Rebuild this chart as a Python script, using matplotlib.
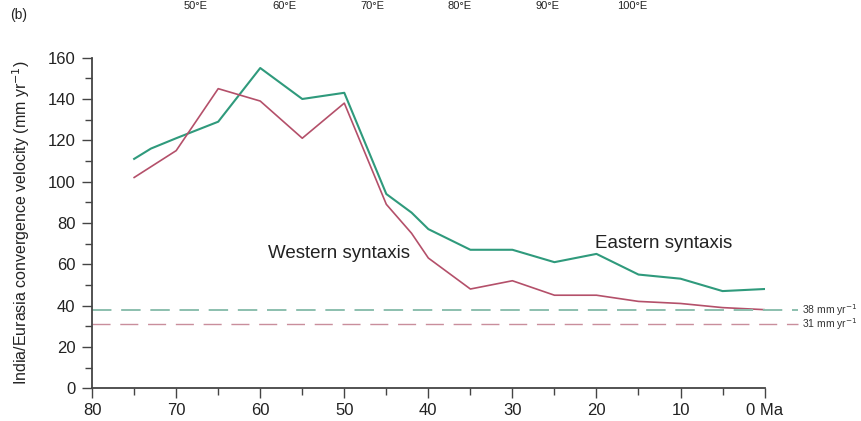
import matplotlib
matplotlib.use('Agg')
import matplotlib.pyplot as plt

plt.rcParams['font.family'] = ['Liberation Sans', 'DejaVu Sans']

# Age (Ma) and convergence velocities (mm/yr)
ages_east = [75, 73, 70, 65, 60, 55, 50, 45, 42, 40, 35, 30, 25, 20, 15, 10, 5, 0]
eastern = [111, 116, 121, 129, 155, 140, 143, 94, 85, 77, 67, 67, 61, 65, 55, 53, 47, 48]
ages_west = [75, 70, 65, 60, 55, 50, 45, 42, 40, 35, 30, 25, 20, 15, 10, 5, 0]
western = [102, 115, 145, 139, 121, 138, 89, 75, 63, 48, 52, 45, 45, 42, 41, 39, 38]

# present-day reference rates
rate_east = 38
rate_west = 31

longitudes = ['50°E', '60°E', '70°E', '80°E', '90°E', '100°E']
lon_px = [196, 284, 372, 460, 548, 632]

green = '#2f9a7c'
red = '#b4506a'

fig = plt.figure(figsize=(8.61, 4.21), dpi=100)
ax = fig.add_axes([0.107, 0.078, 0.781, 0.785])

ax.plot(ages_east, eastern, color=green, lw=1.5)
ax.plot(ages_west, western, color=red, lw=1.2)

ax.plot([80, -4], [rate_east, rate_east], color='#8cbfae', lw=1.4,
        dashes=(10, 5), clip_on=False)
ax.plot([80, -4], [rate_west, rate_west], color='#c98e9c', lw=1.0,
        dashes=(13, 7), clip_on=False)
ax.text(-4.5, rate_east, '38 mm yr$^{-1}$', fontsize=7.5, va='center', ha='left', color='#333333')
ax.text(-4.5, rate_west, '31 mm yr$^{-1}$', fontsize=7.5, va='center', ha='left', color='#333333')

ax.text(50.6, 65, 'Western syntaxis', fontsize=13.5, ha='center', va='center', color='#222222')
ax.text(12, 70, 'Eastern syntaxis', fontsize=13.5, ha='center', va='center', color='#222222')

ax.set_xlim(80, 0)
ax.set_ylim(0, 160)
ax.set_xticks(range(80, -1, -10))
ax.set_xticklabels([str(v) for v in range(80, 0, -10)] + ['0 Ma'])
ax.set_xticks(range(75, 0, -10), minor=True)
ax.set_yticks(range(0, 161, 20))
ax.set_yticks(range(10, 160, 20), minor=True)
ax.spines['top'].set_visible(False)
ax.spines['right'].set_visible(False)
ax.spines['left'].set_color('#444444')
ax.spines['bottom'].set_color('#444444')
ax.spines['left'].set_linewidth(1.3)
ax.spines['bottom'].set_linewidth(1.3)
ax.tick_params(axis='both', which='major', direction='out', length=7, width=1,
               labelsize=12, colors='#444444', labelcolor='#222222')
ax.tick_params(axis='both', which='minor', direction='out', length=5, width=1, colors='#444444')
ax.tick_params(axis='x', which='major', pad=4)
ax.tick_params(axis='y', which='major', pad=5)
ax.set_ylabel('India/Eurasia convergence velocity (mm yr$^{-1}$)', fontsize=11.5, color='#222222')
ax.yaxis.set_label_coords(-0.09, 0.5)

fig.text(0.012, 0.965, '(b)', fontsize=10, va='center', color='#222222')
for lab, px in zip(longitudes, lon_px):
    fig.text(px / 861, 0.998, lab, fontsize=8, ha='center', va='top', color='#222222')

fig.savefig('out.png', dpi=100)
